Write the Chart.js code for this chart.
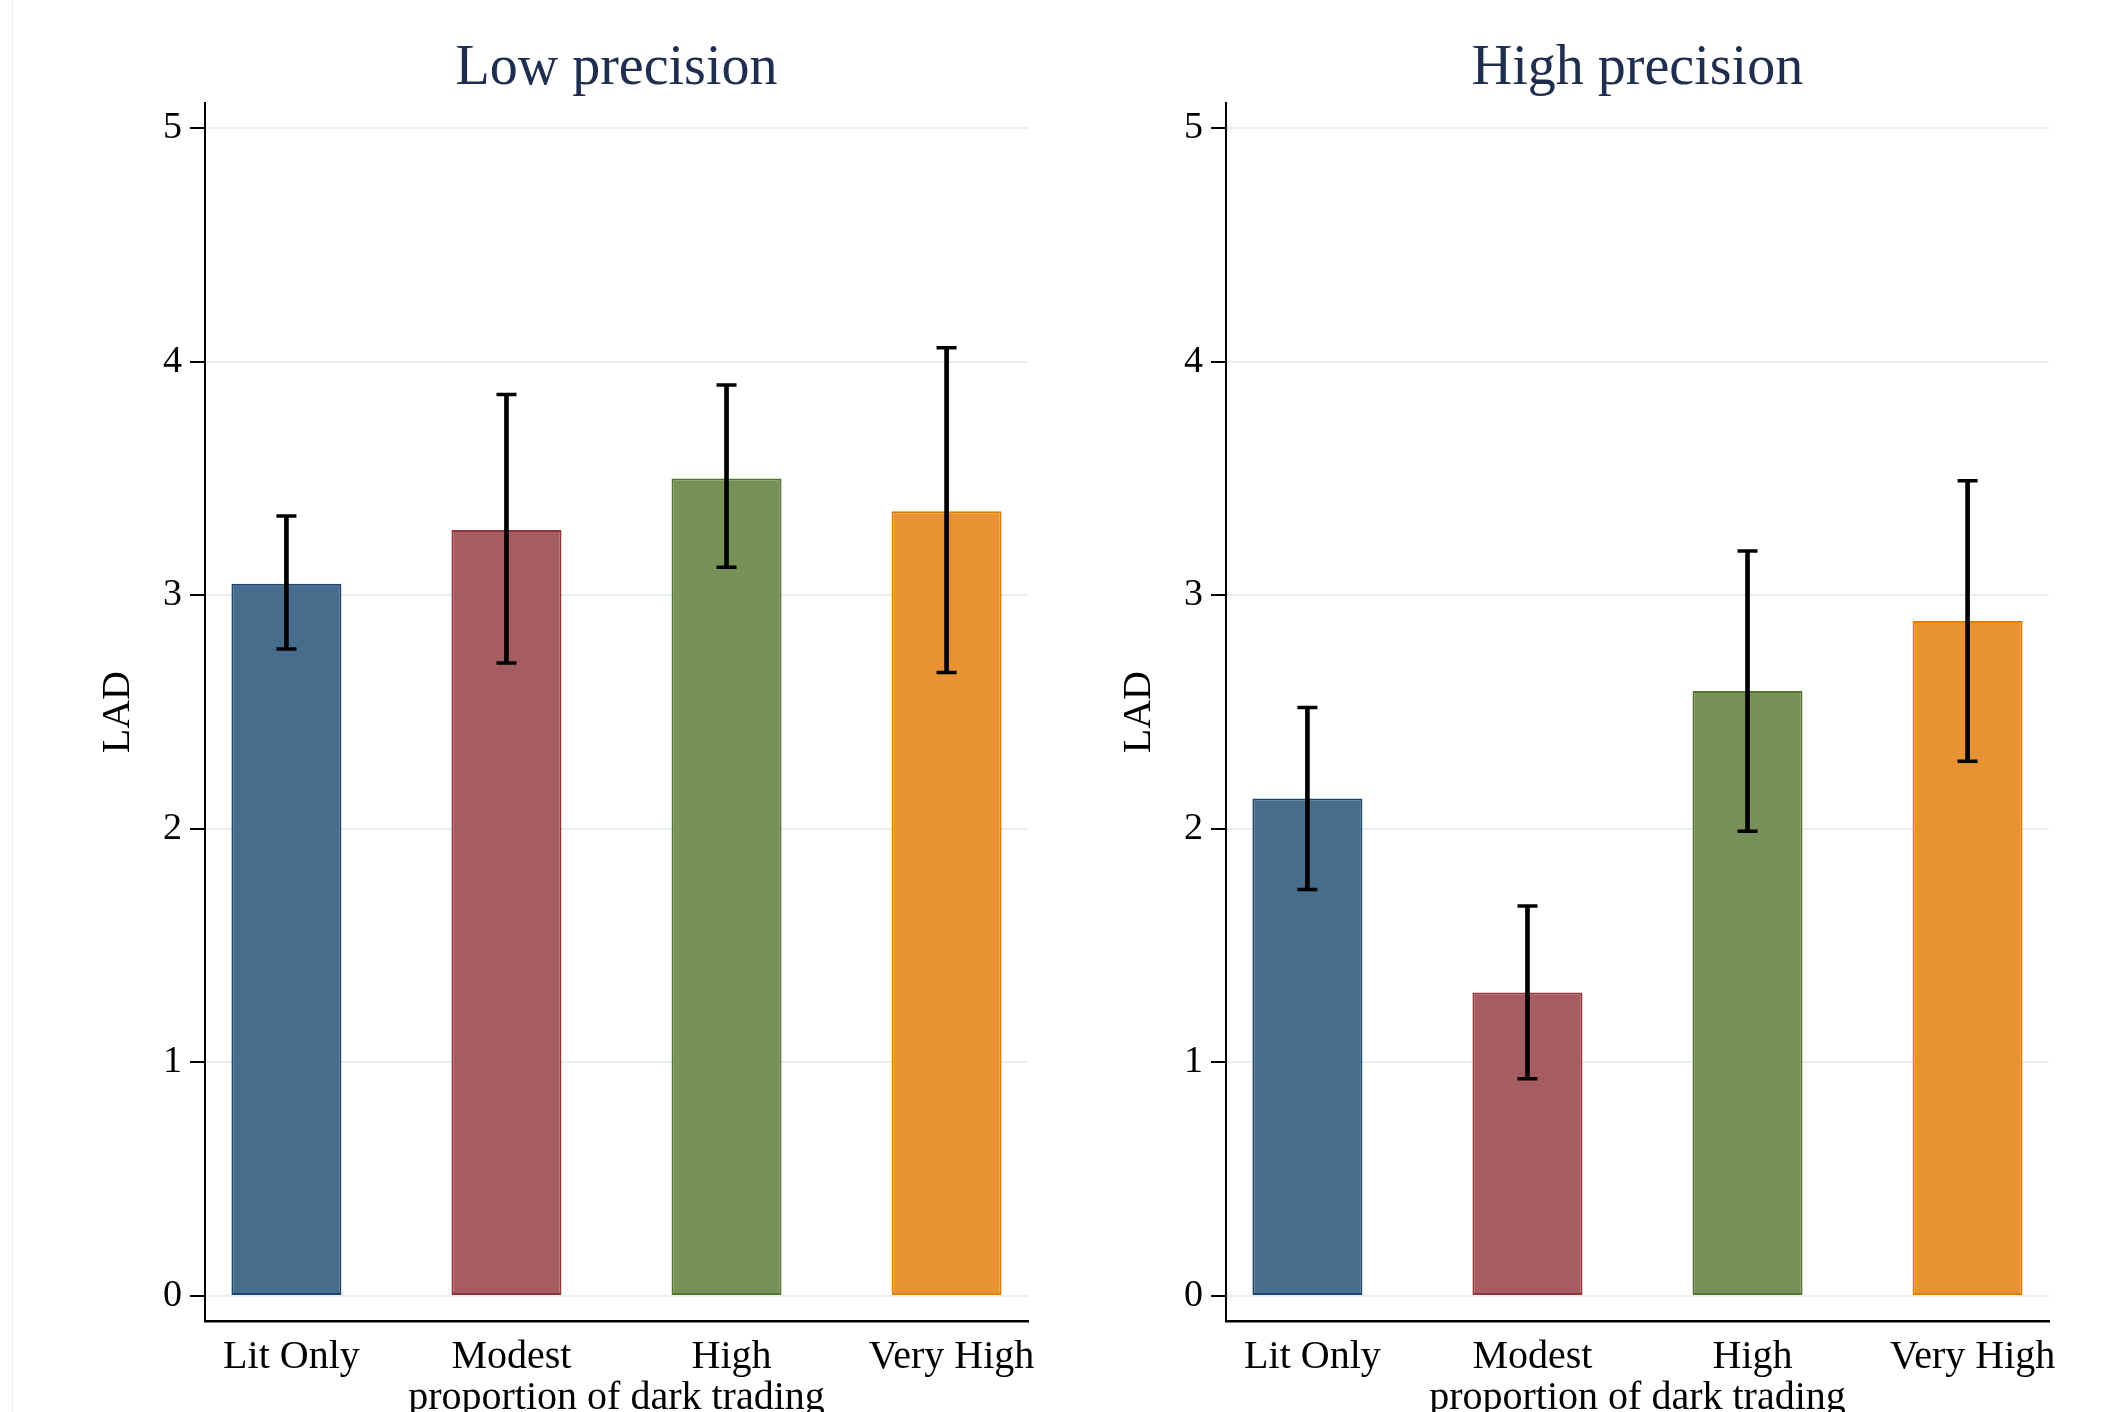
<!DOCTYPE html>
<html>
<head>
<meta charset="utf-8">
<script src="https://cdn.jsdelivr.net/npm/chart.js@4.4.1/dist/chart.umd.min.js"></script>
<style>
  html, body { margin: 0; padding: 0; background: #fff; overflow: hidden; }
  .panel { position: absolute; top: 0; }
  .edge { position: absolute; left: 12px; top: 0; width: 1px; height: 1412px; background: #f0f0f0; }
</style>
</head>
<body>
<div class="edge"></div>
<div class="panel" style="left:0px"><canvas id="lowChart" width="1060" height="1440"></canvas></div>
<div class="panel" style="left:1021px"><canvas id="highChart" width="1060" height="1440"></canvas></div>
<script>
var categories = ['Lit Only', 'Modest', 'High', 'Very High'];
var yTicks = [0, 1, 2, 3, 4, 5];

// Low precision panel
var lowMeans = [3.05, 3.28, 3.50, 3.36];
var lowUpper = [3.34, 3.86, 3.90, 4.06];
var lowLower = [2.77, 2.71, 3.12, 2.67];

// High precision panel
var highMeans = [2.13, 1.30, 2.59, 2.89];
var highUpper = [2.52, 1.67, 3.19, 3.49];
var highLower = [1.74, 0.93, 1.99, 2.29];

var fillColors = ['#486c8c', '#a65d62', '#779159', '#e99233'];
var edgeColors = ['#1a476f', '#90353b', '#55752f', '#e37e00'];

var serif = 'Liberation Serif, Times New Roman, serif';

function makeChart(id, titleText, means, upper, lower) {
  var ctx = document.getElementById(id).getContext('2d');
  var caps = [];
  for (var i = 0; i < categories.length; i++) {
    caps.push({x: i, y: upper[i]});
    caps.push({x: i, y: lower[i]});
  }
  return new Chart(ctx, {
    type: 'bar',
    data: {
      datasets: [{
        label: 'mean',
        data: means.map(function(v, i) { return {x: i, y: v}; }),
        backgroundColor: fillColors,
        borderColor: edgeColors,
        borderWidth: 2,
        borderSkipped: false,
        barPercentage: 0.5,
        categoryPercentage: 1,
        grouped: false,
        order: 3
      }, {
        label: 'ci',
        data: lower.map(function(v, i) { return {x: i, y: [v, upper[i]]}; }),
        backgroundColor: '#000',
        borderWidth: 0,
        barThickness: 4,
        grouped: false,
        order: 2
      }, {
        type: 'scatter',
        label: 'caps',
        data: caps,
        pointStyle: 'line',
        pointRadius: 10,
        pointBorderWidth: 3.5,
        pointBorderColor: '#000',
        pointBackgroundColor: '#000',
        order: 1
      }]
    },
    options: {
      responsive: false,
      animation: false,
      events: [],
      layout: { padding: { left: 0, right: 32, top: 0, bottom: 0 } },
      plugins: {
        legend: { display: false },
        tooltip: { enabled: false },
        title: {
          display: true,
          text: titleText,
          fullSize: false,
          color: '#1f2d4e',
          font: { family: serif, size: 56, weight: 'normal' },
          padding: { top: 36, bottom: 0 }
        }
      },
      scales: {
        x: {
          type: 'linear',
          position: 'bottom',
          offset: false,
          min: -0.37,
          max: 3.37,
          afterBuildTicks: function(s) { s.ticks = categories.map(function(c, i) { return {value: i}; }); },
          afterFit: function(s) { s.height = 119; },
          grid: { display: false, drawTicks: false, offset: false },
          border: { display: true, color: '#000', width: 2.5 },
          ticks: {
            callback: function(v) { return categories[v]; },
            color: '#000',
            font: { family: serif, size: 40 },
            padding: 12,
            labelOffset: 5,
            maxRotation: 0,
            autoSkip: false
          },
          title: {
            display: true,
            text: 'proportion of dark trading',
            color: '#000',
            font: { family: serif, size: 40 },
            padding: { top: 0, bottom: 17.5 }
          }
        },
        y: {
          min: -0.107,
          max: 5.107,
          afterBuildTicks: function(s) { s.ticks = yTicks.map(function(v) { return {value: v}; }); },
          afterFit: function(s) { s.width = 205; },
          grid: { color: '#e8eff1', lineWidth: 2, tickLength: 15, tickColor: '#000', tickWidth: 2 },
          border: { display: true, color: '#000', width: 2 },
          ticks: {
            color: '#000',
            font: { family: serif, size: 38 },
            padding: 8
          },
          title: {
            display: true,
            text: 'LAD',
            color: '#000',
            font: { family: serif, size: 40 },
            padding: { top: 94, bottom: 0 }
          }
        }
      }
    }
  });
}

makeChart('lowChart', 'Low precision', lowMeans, lowUpper, lowLower);
makeChart('highChart', 'High precision', highMeans, highUpper, highLower);
</script>
</body>
</html>
